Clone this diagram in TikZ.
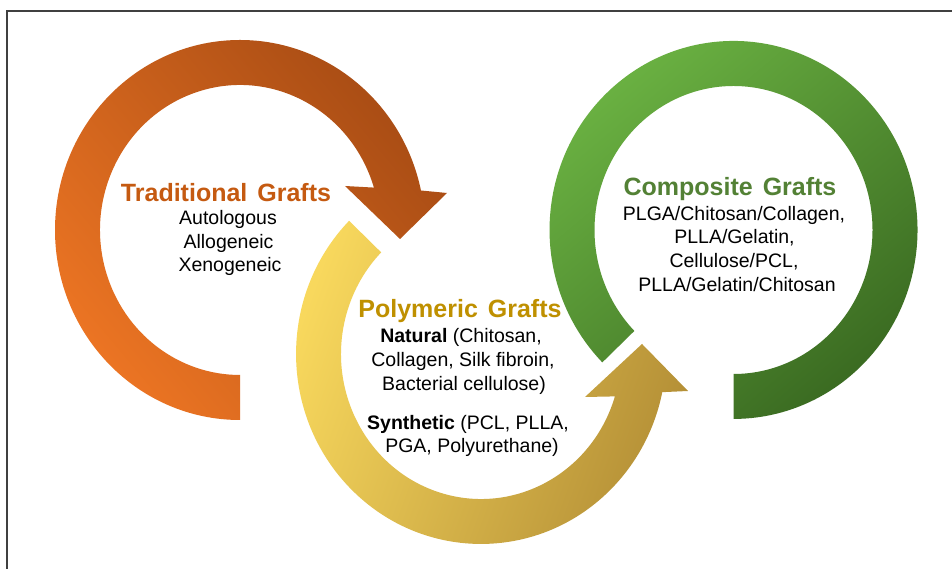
\documentclass[tikz,border=0pt]{standalone}
\usepackage{fontspec}
\setmainfont{Liberation Sans}
\definecolor{orL}{HTML}{EB7423}
\definecolor{orD}{HTML}{A84C14}
\definecolor{yeL}{HTML}{F8D85D}
\definecolor{yeM}{HTML}{E6C04C}
\definecolor{yeD}{HTML}{B48F36}
\definecolor{grL}{HTML}{6CB443}
\definecolor{grD}{HTML}{3A6A21}
\definecolor{orT}{HTML}{C55A11}
\definecolor{yeT}{HTML}{BF9000}
\definecolor{grT}{HTML}{538135}
\definecolor{frameC}{HTML}{404040}
\tikzset{
  ttl/.style={font=\fontsize{25}{30}\selectfont\bfseries, anchor=base, inner sep=0pt},
  bdy/.style={font=\fontsize{19.5}{23.5}\selectfont, anchor=base, inner sep=0pt, text=black},
  frameline/.style={draw=frameC, line width=2pt}
}
\begin{document}
\begin{tikzpicture}[x=1pt,y=1pt]
\useasboundingbox (0,0) rectangle (952,569);
\fill[white] (0,0) rectangle (952,569);
\coordinate (fa) at (7,0);
\coordinate (fb) at (7,558);
\coordinate (fc) at (952,558);
\draw[frameline] (fa) -- (fb) -- (fc);

% orange ring arrow
\shade[left color=orL, middle color=orL!55!orD, right color=orD, shading angle=130]
  (240,149) arc[start angle=270, end angle=12, x radius=185, y radius=190]
  -- (447,376) -- (400,330) -- (345,383)
  -- (373.9,381.4) arc[start angle=17, end angle=270, x radius=140, y radius=145]
  -- cycle;

% yellow ring arrow
\shade[left color=yeL, middle color=yeM, right color=yeD, shading angle=70]
  (349.1,348.2) arc[start angle=135.5, end angle=348.4, x radius=185, y radius=190]
  -- (688,178) -- (642,225) -- (585,172)
  -- (614.9,172.6) arc[start angle=343, end angle=135.5, x radius=140, y radius=145]
  -- cycle;

% green ring
\shade[left color=grL, middle color=grL, right color=grD, shading angle=40]
  (602.3,206.6) arc[start angle=224.5, end angle=-90, x radius=184, y radius=189]
  -- (733.5,195) arc[start angle=-90, end angle=224.5, x radius=139, y radius=144]
  -- cycle;

% texts
\node[ttl, text=orT] (tradT) at (226,367) {Traditional\hspace{0.4em}Grafts};
\node[bdy] (trad1) at (228,344) {Autologous};
\node[bdy] (trad2) at (228.5,320) {Allogeneic};
\node[bdy] (trad3) at (230,297) {Xenogeneic};

\node[ttl, text=yeT] (polyT) at (460,251) {Polymeric\hspace{0.4em}Grafts};
\node[bdy] (poly1) at (461,226) {\textbf{Natural} (Chitosan,};
\node[bdy] (poly2) at (463,202) {Collagen, Silk fibroin,};
\node[bdy] (poly3) at (464,178) {Bacterial cellulose)};
\node[bdy] (poly4) at (468,139) {\textbf{Synthetic} (PCL, PLLA,};
\node[bdy] (poly5) at (472,116) {PGA, Polyurethane)};

\node[ttl, text=grT] (compT) at (730,373) {Composite\hspace{0.4em}Grafts};
\node[bdy] (comp1) at (734,348) {PLGA/Chitosan/Collagen,};
\node[bdy] (comp2) at (734.5,325) {PLLA/Gelatin,};
\node[bdy] (comp3) at (734,301) {Cellulose/PCL,};
\node[bdy] (comp4) at (737,277) {PLLA/Gelatin/Chitosan};
\end{tikzpicture}
\end{document}
